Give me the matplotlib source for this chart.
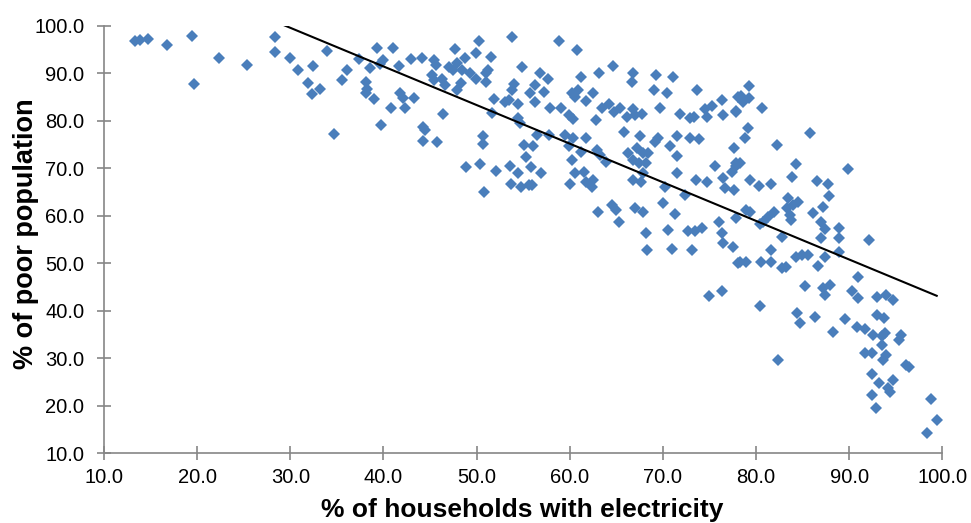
import numpy as np
import matplotlib
matplotlib.use("Agg")
import matplotlib.pyplot as plt

# ---- data ----
electricity = [
    13.3, 13.9, 14.7, 16.8, 19.4, 19.7, 22.3, 25.3, 28.4, 28.4, 30.0, 30.8, 32.4, 31.9, 32.3, 33.2,
    33.9, 34.7, 35.6, 36.1, 37.4, 38.6, 39.3, 41.0, 39.9, 39.6, 41.7, 38.1, 38.2, 38.1, 39.0, 39.7,
    40.8, 41.8, 42.1, 42.3, 43.3, 43.0, 44.1, 45.4, 45.6, 45.2, 45.4, 46.3, 46.6, 44.2, 44.5, 44.2,
    45.7, 46.4, 47.0, 47.7, 47.5, 47.9, 48.3, 47.9, 48.8, 48.4, 49.3, 49.9, 50.3, 49.9, 51.0, 51.2,
    51.0, 51.6, 53.8, 54.9, 54.0, 53.8, 51.9, 53.0, 53.5, 54.4, 51.7, 55.7, 54.4, 54.7, 50.7, 50.7,
    48.9, 50.4, 52.1, 50.8, 53.6, 54.4, 53.7, 54.8, 55.1, 55.3, 55.8, 55.6,
    58.8, 60.8, 56.8, 57.7, 56.3, 57.2, 56.3, 57.9, 59.1, 59.9, 60.4, 60.2, 60.9, 60.6, 61.2, 61.7,
    62.5, 63.1, 64.6, 62.8, 63.5, 64.2, 64.7, 65.4, 66.1, 66.8, 67.0, 67.8, 66.8, 66.7, 69.3, 69.0,
    70.4, 71.1, 69.7, 71.8, 72.9, 73.3, 73.7, 74.5, 75.3, 76.3, 74.7, 76.5, 77.8, 78.1,
    56.5, 57.8, 56.1, 56.9, 55.9, 59.5, 60.4, 59.9, 60.2, 61.2, 61.7, 60.6, 60.0, 61.5, 61.8, 62.5,
    62.4, 62.9, 63.3, 63.9, 65.8, 67.5, 66.3, 67.2, 67.9, 68.4, 66.8, 67.4, 68.2, 66.8, 67.7, 67.9,
    69.2, 69.5, 70.8, 71.5, 71.5, 71.5, 70.2, 72.9, 73.9, 72.4, 73.6, 74.7, 75.6, 76.5, 76.7, 77.6,
    77.6, 77.9, 77.4,
    63.0, 64.5, 65.0, 65.3, 67.0, 67.9, 68.2, 70.0, 71.3, 70.5, 72.7, 73.4, 74.2, 76.0, 76.4, 77.9,
    68.3, 71.0, 73.1, 76.5, 77.5, 78.1, 75.0, 76.4,
    79.2, 78.4, 79.2, 78.6, 77.9, 80.6, 79.1, 78.8, 85.8, 82.2, 78.3, 77.9, 84.3, 83.9, 89.9, 79.4,
    80.3, 81.6, 86.6, 87.7, 87.8, 83.4, 84.5, 84.0, 83.3, 83.7, 83.8, 87.2, 86.1, 87.0, 87.4, 88.9,
    81.9, 81.3, 80.8, 80.4, 78.9, 79.4, 82.8, 87.0, 88.9, 92.1,
    78.3, 78.9, 80.5, 81.6, 81.6, 82.8, 83.2, 84.3, 84.9, 85.6, 87.4, 86.7, 88.9, 80.4, 85.3, 87.2,
    87.4, 87.9, 91.0, 90.3, 91.0, 93.0, 94.0, 94.7, 84.4, 84.7, 86.3, 82.4, 88.3, 89.6, 90.8, 91.7,
    93.0, 93.7, 92.6, 93.5, 93.8, 93.5, 94.0, 93.6, 91.7, 92.5, 95.6, 95.4, 96.1, 96.4, 92.4, 93.2,
    94.7, 94.4, 94.2, 92.5, 92.9, 98.8, 99.4, 98.4,
]
poor = [
    96.8, 97.0, 97.2, 95.9, 97.9, 87.7, 93.3, 91.8, 97.7, 94.4, 93.2, 90.7, 91.6, 88.0, 85.6, 86.8,
    94.8, 77.2, 88.6, 90.8, 93.0, 91.2, 95.4, 95.4, 92.7, 91.9, 91.5, 88.2, 86.8, 85.9, 84.5, 79.1,
    82.6, 85.9, 84.9, 82.6, 84.9, 93.0, 93.2, 92.7, 91.8, 89.6, 88.5, 88.9, 87.5, 78.8, 78.1, 75.8,
    75.5, 81.4, 91.4, 95.1, 90.8, 92.1, 87.9, 86.5, 93.3, 90.7, 90.0, 94.3, 96.7, 88.9, 90.0, 90.7,
    88.2, 93.5, 97.6, 91.4, 87.8, 86.5, 84.5, 84.0, 84.4, 83.5, 81.6, 85.9, 80.5, 79.5, 76.7, 75.1,
    70.3, 70.9, 69.4, 65.1, 70.5, 69.1, 66.8, 66.1, 74.9, 72.3, 70.3, 66.5,
    96.7, 94.9, 90.0, 88.8, 87.5, 86.1, 84.0, 82.6, 82.6, 81.2, 80.3, 85.8, 86.5, 85.1, 89.3, 84.2,
    85.9, 90.0, 91.6, 80.2, 82.6, 83.5, 81.9, 82.6, 80.9, 82.4, 81.2, 81.4, 90.0, 88.2, 89.6, 86.5,
    85.9, 89.3, 82.8, 81.4, 80.5, 80.9, 86.5, 82.4, 83.1, 84.4, 80.9, 81.2, 81.9, 85.1,
    77.0, 77.0, 74.6, 69.0, 66.5, 77.0, 76.3, 74.6, 71.8, 73.5, 76.3, 69.0, 66.6, 69.3, 67.2, 67.5,
    66.1, 73.9, 72.8, 71.4, 77.7, 76.7, 73.2, 74.2, 73.2, 73.2, 71.8, 71.1, 71.1, 67.5, 67.2, 69.0,
    75.6, 76.3, 74.6, 76.7, 72.6, 69.0, 66.1, 76.3, 76.1, 64.4, 67.5, 67.2, 70.5, 67.9, 65.8, 65.4,
    74.2, 71.1, 69.3,
    60.7, 62.3, 61.2, 58.6, 61.6, 60.7, 56.4, 62.6, 60.3, 57.0, 56.9, 56.7, 57.4, 58.6, 56.3, 59.5,
    52.8, 53.0, 52.8, 54.3, 53.5, 50.1, 43.2, 44.2,
    87.3, 85.2, 84.7, 84.0, 82.1, 82.8, 78.4, 76.3, 77.5, 74.9, 71.2, 70.4, 70.9, 68.2, 69.8, 67.5,
    66.3, 66.7, 67.3, 66.6, 64.2, 63.7, 63.0, 62.3, 61.6, 60.2, 59.1, 61.9, 60.5, 58.8, 57.2, 57.4,
    60.9, 59.8, 58.8, 58.3, 61.2, 60.9, 55.6, 55.3, 55.3, 55.0,
    50.2, 50.2, 50.2, 50.2, 52.7, 49.0, 49.3, 51.3, 51.8, 51.8, 51.4, 49.5, 52.3, 41.0, 45.2, 44.7,
    43.3, 45.4, 47.2, 44.2, 42.8, 43.0, 43.3, 42.3, 39.6, 37.5, 38.8, 29.6, 35.6, 38.2, 36.5, 36.1,
    39.1, 38.4, 34.9, 34.7, 35.4, 32.8, 30.7, 29.6, 31.1, 31.2, 34.9, 33.9, 28.6, 28.2, 26.8, 24.9,
    25.4, 23.0, 23.7, 22.3, 19.5, 21.4, 17.0, 14.3,
]
x_ticks = [10, 20, 30, 40, 50, 60, 70, 80, 90, 100]
y_ticks = [10, 20, 30, 40, 50, 60, 70, 80, 90, 100]
x_title = "% of households with electricity"
y_title = "% of poor population"

# ---- figure ----
W, H = 971, 523
fig = plt.figure(figsize=(W / 100, H / 100), dpi=100)
plt.rcParams['font.family'] = ['Liberation Sans', 'DejaVu Sans']

L, R, T, B = 104, 942.3, 25.8, 453.3
ax = fig.add_axes([L / W, 1 - B / H, (R - L) / W, (B - T) / H])

x = np.array(electricity)
y = np.array(poor)

ax.plot(x, y, linestyle='none', marker='D', markersize=5.8,
        markerfacecolor='#4A7EBB', markeredgewidth=0, zorder=3, clip_on=False)

# linear trend line fitted to the data
slope, intercept = np.polyfit(x, y, 1)
tx = np.array([x.min(), x.max()])
ax.plot(tx, slope * tx + intercept, color='black', linewidth=1.5, zorder=4)

ax.set_xlim(10, 100)
ax.set_ylim(10, 100)
ax.set_xticks(x_ticks)
ax.set_yticks(y_ticks)
ax.set_xticklabels([f"{v:.1f}" for v in x_ticks])
ax.set_yticklabels([f"{v:.1f}" for v in y_ticks])

for s in ['top', 'right']:
    ax.spines[s].set_visible(False)
for s in ['left', 'bottom']:
    ax.spines[s].set_color('#868686')
    ax.spines[s].set_linewidth(1.2)

ax.tick_params(axis='both', direction='inout', length=9.5, width=1.2,
               color='#868686', labelsize=14.5, labelcolor='black')
ax.tick_params(axis='x', pad=5.5)
ax.tick_params(axis='y', pad=9.5)

fig.text(522.5 / W, 1 - 517.5 / H, x_title, ha='center', va='baseline',
         fontsize=19, fontweight='bold', color='black')
fig.text(26 / W, 1 - 234 / H, y_title, ha='center', va='center', rotation=90,
         fontsize=19.5, fontweight='bold', color='black')

fig.savefig('out.png', dpi=100)
